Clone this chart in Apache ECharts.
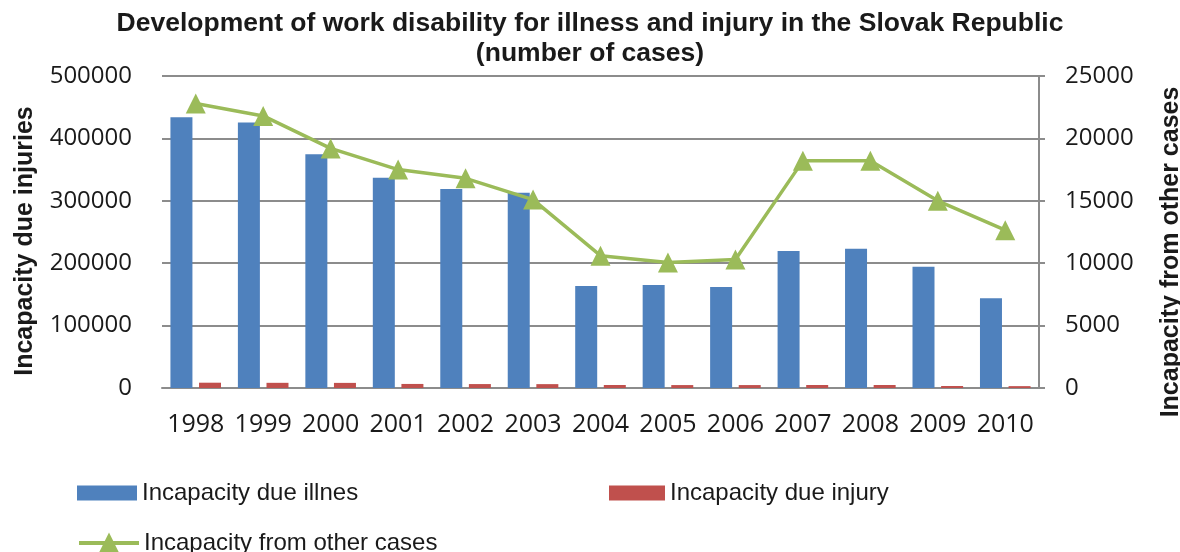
<!DOCTYPE html>
<html>
<head>
<meta charset="utf-8">
<script src="https://cdn.jsdelivr.net/npm/echarts@6/dist/echarts.min.js"></script>
<style>html,body{margin:0;padding:0;background:#fff}#c{width:1180px;height:552px}</style>
</head>
<body>
<div id="c"></div>
<script>
const years = ['1998','1999','2000','2001','2002','2003','2004','2005','2006','2007','2008','2009','2010'];
const illness = [434000, 425500, 374500, 337000, 319000, 313000, 163500, 165000, 162000, 219500, 223000, 194500, 144000];
const injury = [8500, 8300, 8200, 6500, 6300, 6200, 4800, 4700, 4700, 4800, 4800, 3200, 3000];
const other = [22800, 21800, 19200, 17500, 16800, 15100, 10600, 10050, 10300, 18200, 18200, 15000, 12650];
const leftTicks = [0, 100000, 500000];
const rightTicks = [0, 5000, 25000];

const tickFont = {fontFamily: 'Open Sans', fontSize: 24, color: '#1a1a1a'};
const plain = v => String(v);
const chart = echarts.init(document.getElementById('c'));
chart.setOption({
  animation: false,
  backgroundColor: '#fff',
  title: {
    text: 'Development of work disability for illness and injury in the Slovak Republic\n(number of cases)',
    left: 'center', top: 4,
    textStyle: {fontFamily: 'Liberation Sans', fontWeight: 'bold', fontSize: 26.5, lineHeight: 30, color: '#1a1a1a'}
  },
  legend: [
    {data: [{name: 'Incapacity due illnes', icon: 'rect'}], left: 72, top: 476, itemWidth: 60, itemHeight: 15, itemGap: 10,
     textStyle: {fontFamily: 'Liberation Sans', fontSize: 24, color: '#1a1a1a'}},
    {data: [{name: 'Incapacity due injury', icon: 'rect'}], left: 604, top: 476, itemWidth: 56, itemHeight: 15,
     textStyle: {fontFamily: 'Liberation Sans', fontSize: 24, color: '#1a1a1a'}},
    {data: ['Incapacity from other cases'], left: 72, top: 526, itemWidth: 60, itemHeight: 26,
     lineStyle: {width: 4, color: '#9BBB59'},
     textStyle: {fontFamily: 'Liberation Sans', fontSize: 24, color: '#1a1a1a'}}
  ],
  grid: {left: 162, right: 141, top: 76, bottom: 164, containLabel: false, outerBoundsMode: 'none'},
  xAxis: {
    type: 'category', data: years,
    axisLine: {lineStyle: {color: '#8c8c8c', width: 2}},
    axisTick: {show: false},
    axisLabel: Object.assign({margin: 24, interval: 0}, tickFont, {fontSize: 25})
  },
  yAxis: [
    {
      type: 'value', min: leftTicks[0], max: leftTicks[2], interval: leftTicks[1],
      name: 'Incapacity due injuries', nameLocation: 'middle', nameRotate: 90, nameGap: 124,
      nameTextStyle: {fontFamily: 'Liberation Sans', fontWeight: 'bold', fontSize: 25, color: '#1a1a1a', padding: [0, 18, 0, 0]},
      axisLine: {show: false}, axisTick: {show: false},
      axisLabel: Object.assign({margin: 30, formatter: plain}, tickFont),
      splitLine: {lineStyle: {color: '#8c8c8c', width: 2}}
    },
    {
      type: 'value', min: rightTicks[0], max: rightTicks[2], interval: rightTicks[1], position: 'right',
      name: 'Incapacity from other cases', nameLocation: 'middle', nameRotate: 90, nameGap: 120,
      nameTextStyle: {fontFamily: 'Liberation Sans', fontWeight: 'bold', fontSize: 25, color: '#1a1a1a', padding: [0, 40, 0, 0]},
      axisLine: {show: true, lineStyle: {color: '#8c8c8c', width: 2}},
      axisTick: {show: true, length: 6, lineStyle: {color: '#8c8c8c', width: 2}},
      axisLabel: Object.assign({margin: 26, formatter: plain}, tickFont),
      splitLine: {show: false}
    }
  ],
  series: [
    {name: 'Incapacity due illnes', type: 'bar', data: illness, barWidth: 22, barGap: '30%',
     itemStyle: {color: '#4F81BD'}},
    {name: 'Incapacity due injury', type: 'bar', data: injury, barWidth: 22,
     itemStyle: {color: '#C0504D'}},
    {name: 'Incapacity from other cases', type: 'line', yAxisIndex: 1, data: other,
     symbol: 'triangle', symbolSize: 20,
     lineStyle: {color: '#9BBB59', width: 3.5}, itemStyle: {color: '#9BBB59'}}
  ]
});
</script>
</body>
</html>
